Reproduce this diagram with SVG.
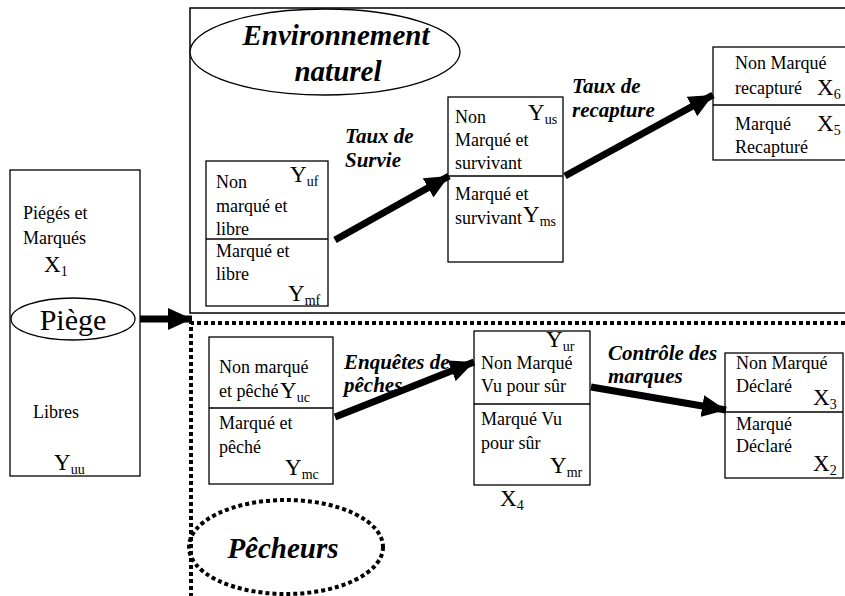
<svg xmlns="http://www.w3.org/2000/svg" width="845" height="596" viewBox="0 0 845 596">
  <style>
    .box { fill: #fff; stroke: #000; stroke-width: 1.3; }
    .div { stroke: #000; stroke-width: 1.3; }
    .t { font-family: "Liberation Serif", "Times New Roman", serif; font-size: 18px; fill: #000; }
    .v { font-family: "Liberation Serif", "Times New Roman", serif; font-size: 23px; fill: #000; }
    .sub { font-size: 14px; }
    .lab { font-family: "Liberation Serif", "Times New Roman", serif; font-size: 21px; font-weight: bold; font-style: italic; fill: #000; }
    .title { font-family: "Liberation Serif", "Times New Roman", serif; font-size: 29px; font-weight: bold; font-style: italic; fill: #000; text-anchor: middle; }
    .arrow { stroke: #000; stroke-width: 7; fill: none; marker-end: url(#head); }
    .dots { stroke: #000; stroke-width: 4; fill: none; stroke-dasharray: 4 3; }
  </style>
  <defs>
    <marker id="head" markerUnits="userSpaceOnUse" markerWidth="26" markerHeight="22" refX="24" refY="11" orient="auto">
      <path d="M0,0 L24,11 L0,22 Z" fill="#000"/>
    </marker>
  </defs>

  <!-- regions -->
  <g id="environnement">
    <rect x="190" y="8" width="670" height="305" fill="none" stroke="#000" stroke-width="1.5"/>
    <ellipse cx="325" cy="52" rx="135" ry="43" fill="#fff" stroke="#000" stroke-width="1.3"/>
    <text class="title" x="336" y="45">Environnement</text>
    <text class="title" x="338" y="81">naturel</text>
  </g>

  <g id="pecheurs">
    <path class="dots" d="M845,323 H191 V596"/>
    <ellipse class="dots" cx="286" cy="547" rx="97" ry="47"/>
    <text class="title" x="283" y="558">Pêcheurs</text>
  </g>

  <!-- trap -->
  <g id="piege">
    <rect class="box" x="10" y="170" width="130" height="306"/>
    <text class="t" x="23" y="219">Piégés et</text>
    <text class="t" x="23" y="244">Marqués</text>
    <text class="v" x="44" y="272">X<tspan class="sub" dy="4">1</tspan></text>
    <ellipse cx="73" cy="319" rx="62" ry="21" fill="#fff" stroke="#000" stroke-width="1.3"/>
    <text class="t" x="73" y="330" style="font-size:30px" text-anchor="middle">Piège</text>
    <text class="t" x="33" y="418">Libres</text>
    <text class="v" x="54" y="470">Y<tspan class="sub" dy="4">uu</tspan></text>
  </g>

  <!-- natural environment states -->
  <g id="libre">
    <rect class="box" x="206" y="161" width="122" height="145"/>
    <line class="div" x1="206" y1="239" x2="328" y2="239"/>
    <text class="t" x="216" y="188">Non</text>
    <text class="t" x="216" y="212">marqué et</text>
    <text class="t" x="216" y="235">libre</text>
    <text class="t" x="216" y="257">Marqué et</text>
    <text class="t" x="216" y="280">libre</text>
    <text class="v" x="290" y="182">Y<tspan class="sub" dy="4">uf</tspan></text>
    <text class="v" x="288" y="301">Y<tspan class="sub" dy="4">mf</tspan></text>
  </g>

  <g id="survivant">
    <rect class="box" x="448" y="97" width="115" height="165"/>
    <line class="div" x1="448" y1="176" x2="563" y2="176"/>
    <text class="t" x="455" y="123">Non</text>
    <text class="t" x="455" y="146">Marqué et</text>
    <text class="t" x="455" y="169">survivant</text>
    <text class="t" x="455" y="200">Marqué et</text>
    <text class="t" x="455" y="224">survivant</text>
    <text class="v" x="528" y="120">Y<tspan class="sub" dy="4">us</tspan></text>
    <text class="v" x="523" y="222">Y<tspan class="sub" dy="4">ms</tspan></text>
  </g>

  <g id="recapture">
    <rect class="box" x="713" y="47" width="140" height="113"/>
    <line class="div" x1="713" y1="105" x2="853" y2="105"/>
    <text class="t" x="735" y="69">Non Marqué</text>
    <text class="t" x="735" y="94">recapturé</text>
    <text class="v" x="817" y="95">X<tspan class="sub" dy="4">6</tspan></text>
    <text class="t" x="735" y="130">Marqué</text>
    <text class="t" x="735" y="153">Recapturé</text>
    <text class="v" x="817" y="131">X<tspan class="sub" dy="4">5</tspan></text>
  </g>

  <!-- fishing states -->
  <g id="peche">
    <rect class="box" x="209" y="337" width="124" height="147"/>
    <line class="div" x1="209" y1="408" x2="333" y2="408"/>
    <text class="t" x="219" y="373">Non marqué</text>
    <text class="t" x="219" y="397">et pêché</text>
    <text class="v" x="280" y="398">Y<tspan class="sub" dy="4">uc</tspan></text>
    <text class="t" x="219" y="429">Marqué et</text>
    <text class="t" x="219" y="453">pêché</text>
    <text class="v" x="285" y="475">Y<tspan class="sub" dy="4">mc</tspan></text>
  </g>

  <g id="vu">
    <rect class="box" x="474" y="331" width="116" height="154"/>
    <line class="div" x1="474" y1="404" x2="590" y2="404"/>
    <text class="v" x="546" y="347">Y<tspan class="sub" dy="4">ur</tspan></text>
    <text class="t" x="481" y="369">Non Marqué</text>
    <text class="t" x="481" y="392">Vu pour sûr</text>
    <text class="t" x="481" y="425">Marqué Vu</text>
    <text class="t" x="481" y="449">pour sûr</text>
    <text class="v" x="550" y="473">Y<tspan class="sub" dy="4">mr</tspan></text>
    <text class="v" x="500" y="506">X<tspan class="sub" dy="4">4</tspan></text>
  </g>

  <g id="declare">
    <rect class="box" x="725" y="353" width="118" height="125"/>
    <line class="div" x1="725" y1="412" x2="843" y2="412"/>
    <text class="t" x="736" y="369">Non Marqué</text>
    <text class="t" x="736" y="392">Déclaré</text>
    <text class="v" x="813" y="405">X<tspan class="sub" dy="4">3</tspan></text>
    <text class="t" x="736" y="430">Marqué</text>
    <text class="t" x="736" y="452">Déclaré</text>
    <text class="v" x="813" y="471">X<tspan class="sub" dy="4">2</tspan></text>
  </g>

  <!-- transitions -->
  <g id="connectors">
    <line class="arrow" x1="140" y1="319" x2="192" y2="319"/>
    <line class="arrow" x1="335" y1="240" x2="449" y2="176"/>
    <line class="arrow" x1="565" y1="176" x2="713" y2="95"/>
    <line class="arrow" x1="335" y1="417" x2="474" y2="362"/>
    <line class="arrow" x1="591" y1="387" x2="726" y2="410"/>
    <text class="lab" x="345" y="143">Taux de</text>
    <text class="lab" x="345" y="167">Survie</text>
    <text class="lab" x="572" y="93">Taux de</text>
    <text class="lab" x="572" y="117">recapture</text>
    <text class="lab" x="344" y="369">Enquêtes de</text>
    <text class="lab" x="344" y="392">pêches</text>
    <text class="lab" x="608" y="360">Contrôle des</text>
    <text class="lab" x="608" y="383">marques</text>
  </g>
</svg>
